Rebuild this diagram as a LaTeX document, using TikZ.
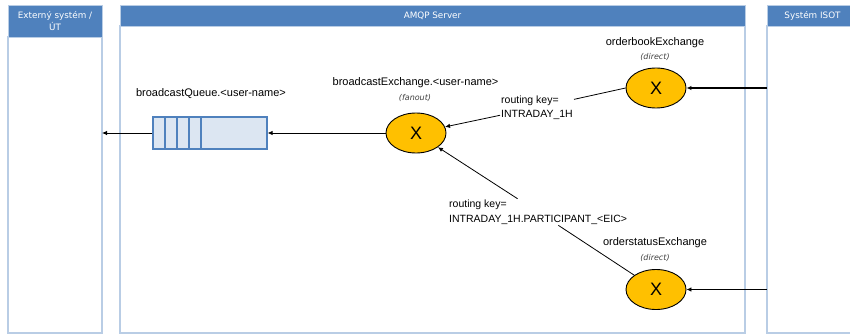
\documentclass[tikz,border=0pt]{standalone}
\usepackage{fontspec}
\setmainfont{Liberation Sans}
\newfontfamily\hdrfont{DejaVu Sans}
\usetikzlibrary{arrows.meta,shapes.geometric}
\definecolor{hdrblue}{HTML}{4F81BD}
\definecolor{lanebord}{HTML}{B9CDE5}
\definecolor{qfill}{HTML}{DCE6F2}
\definecolor{qbord}{HTML}{4F81BD}
\definecolor{exfill}{HTML}{FFC000}
\definecolor{subgray}{HTML}{404040}
\begin{document}
\begin{tikzpicture}[x=1pt,y=-1pt,
  lane/.style={draw=lanebord, line width=1.2pt},
  hdr/.style={fill=hdrblue, draw=lanebord, line width=0.8pt},
  hdrtext/.style={text=white, font=\hdrfont\fontsize{8.8}{12}\selectfont, align=center, inner sep=0pt},
  exch/.style={ellipse, draw=black, line width=0.9pt, fill=exfill, minimum width=60pt, minimum height=40pt, inner sep=0pt, font=\fontsize{18}{18}\selectfont},
  lbl/.style={font=\fontsize{11}{12}\selectfont, inner sep=0pt},
  sub/.style={font=\hdrfont\itshape\fontsize{8}{10}\selectfont, text=subgray, inner sep=0pt},
  rk/.style={fill=white, align=left, font=\fontsize{10.5}{14.5}\selectfont, inner sep=1pt},
  arr/.style={-{Latex[length=5pt,width=4.5pt]}, line width=0.8pt},
  conn/.style={line width=0.8pt},
  qbox/.style={draw=qbord, fill=qfill, line width=1.2pt, minimum width=114pt, minimum height=32pt, inner sep=0pt}
]
\useasboundingbox (0,0) rectangle (850,334);
\fill[white] (0,0) rectangle (850,334);
\clip (0,0) rectangle (850,334);
% lanes
\draw[lane] (8,37) rectangle (102,333);
\draw[hdr] (8,5) rectangle (102,37);
\draw[lane] (120,26) rectangle (745,333);
\draw[hdr] (120,5) rectangle (745,26);
\draw[lane] (767,26) rectangle (862,333);
\draw[hdr] (767,5) rectangle (862,26);
\node[hdrtext] (hL) at (55,21) {Externý systém /\\ÚT};
\node[hdrtext] (hM) at (432.5,15.5) {AMQP Server};
\node[hdrtext] (hR) at (812.5,15.5) {Systém ISOT};
% queue
\node[qbox] (q) at (210,133) {};
\foreach \x in {165,177,189,201} \draw[qbord, line width=1.4pt] (\x,117) -- (\x,149);
\node[lbl] (qlab) at (211,94) {broadcastQueue.<user-name>};
% exchanges
\node[exch] (bex) at (416,133) {X};
\node[lbl] (bexlab) at (415.5,83) {broadcastExchange.<user-name>};
\node[sub] (bexsub) at (415,98) {(fanout)};
\node[exch] (ob) at (656,88) {X};
\node[lbl] (oblab) at (655,43) {orderbookExchange};
\node[sub] (obsub) at (655,57) {(direct)};
\node[exch] (os) at (656,289.5) {X};
\node[lbl] (oslab) at (655,243) {orderstatusExchange};
\node[sub] (ossub) at (655,258) {(direct)};
% routing labels
\node[rk, anchor=west] (rk1) at (500,107.5) {routing key=\\INTRADAY\_1H};
\node[rk, anchor=west] (rk2) at (448,212) {routing key=\\INTRADAY\_1H.PARTICIPANT\_<EIC>};
% connectors
\coordinate (lEdge) at (102,133);
\coordinate (rTop) at (767,88);
\coordinate (rBot) at (767,289.5);
\draw[arr, line width=1.6pt] (rTop) -- (ob);
\draw[arr] (rBot) -- (os);
\draw[conn] (ob.west) -- (rk1);
\draw[arr] (rk1) -- (bex);
\draw[conn] (os) -- (rk2);
\draw[arr] (rk2) -- (bex);
\draw[arr] (bex) -- (q);
\draw[arr] (q) -- (lEdge);
\end{tikzpicture}
\end{document}
